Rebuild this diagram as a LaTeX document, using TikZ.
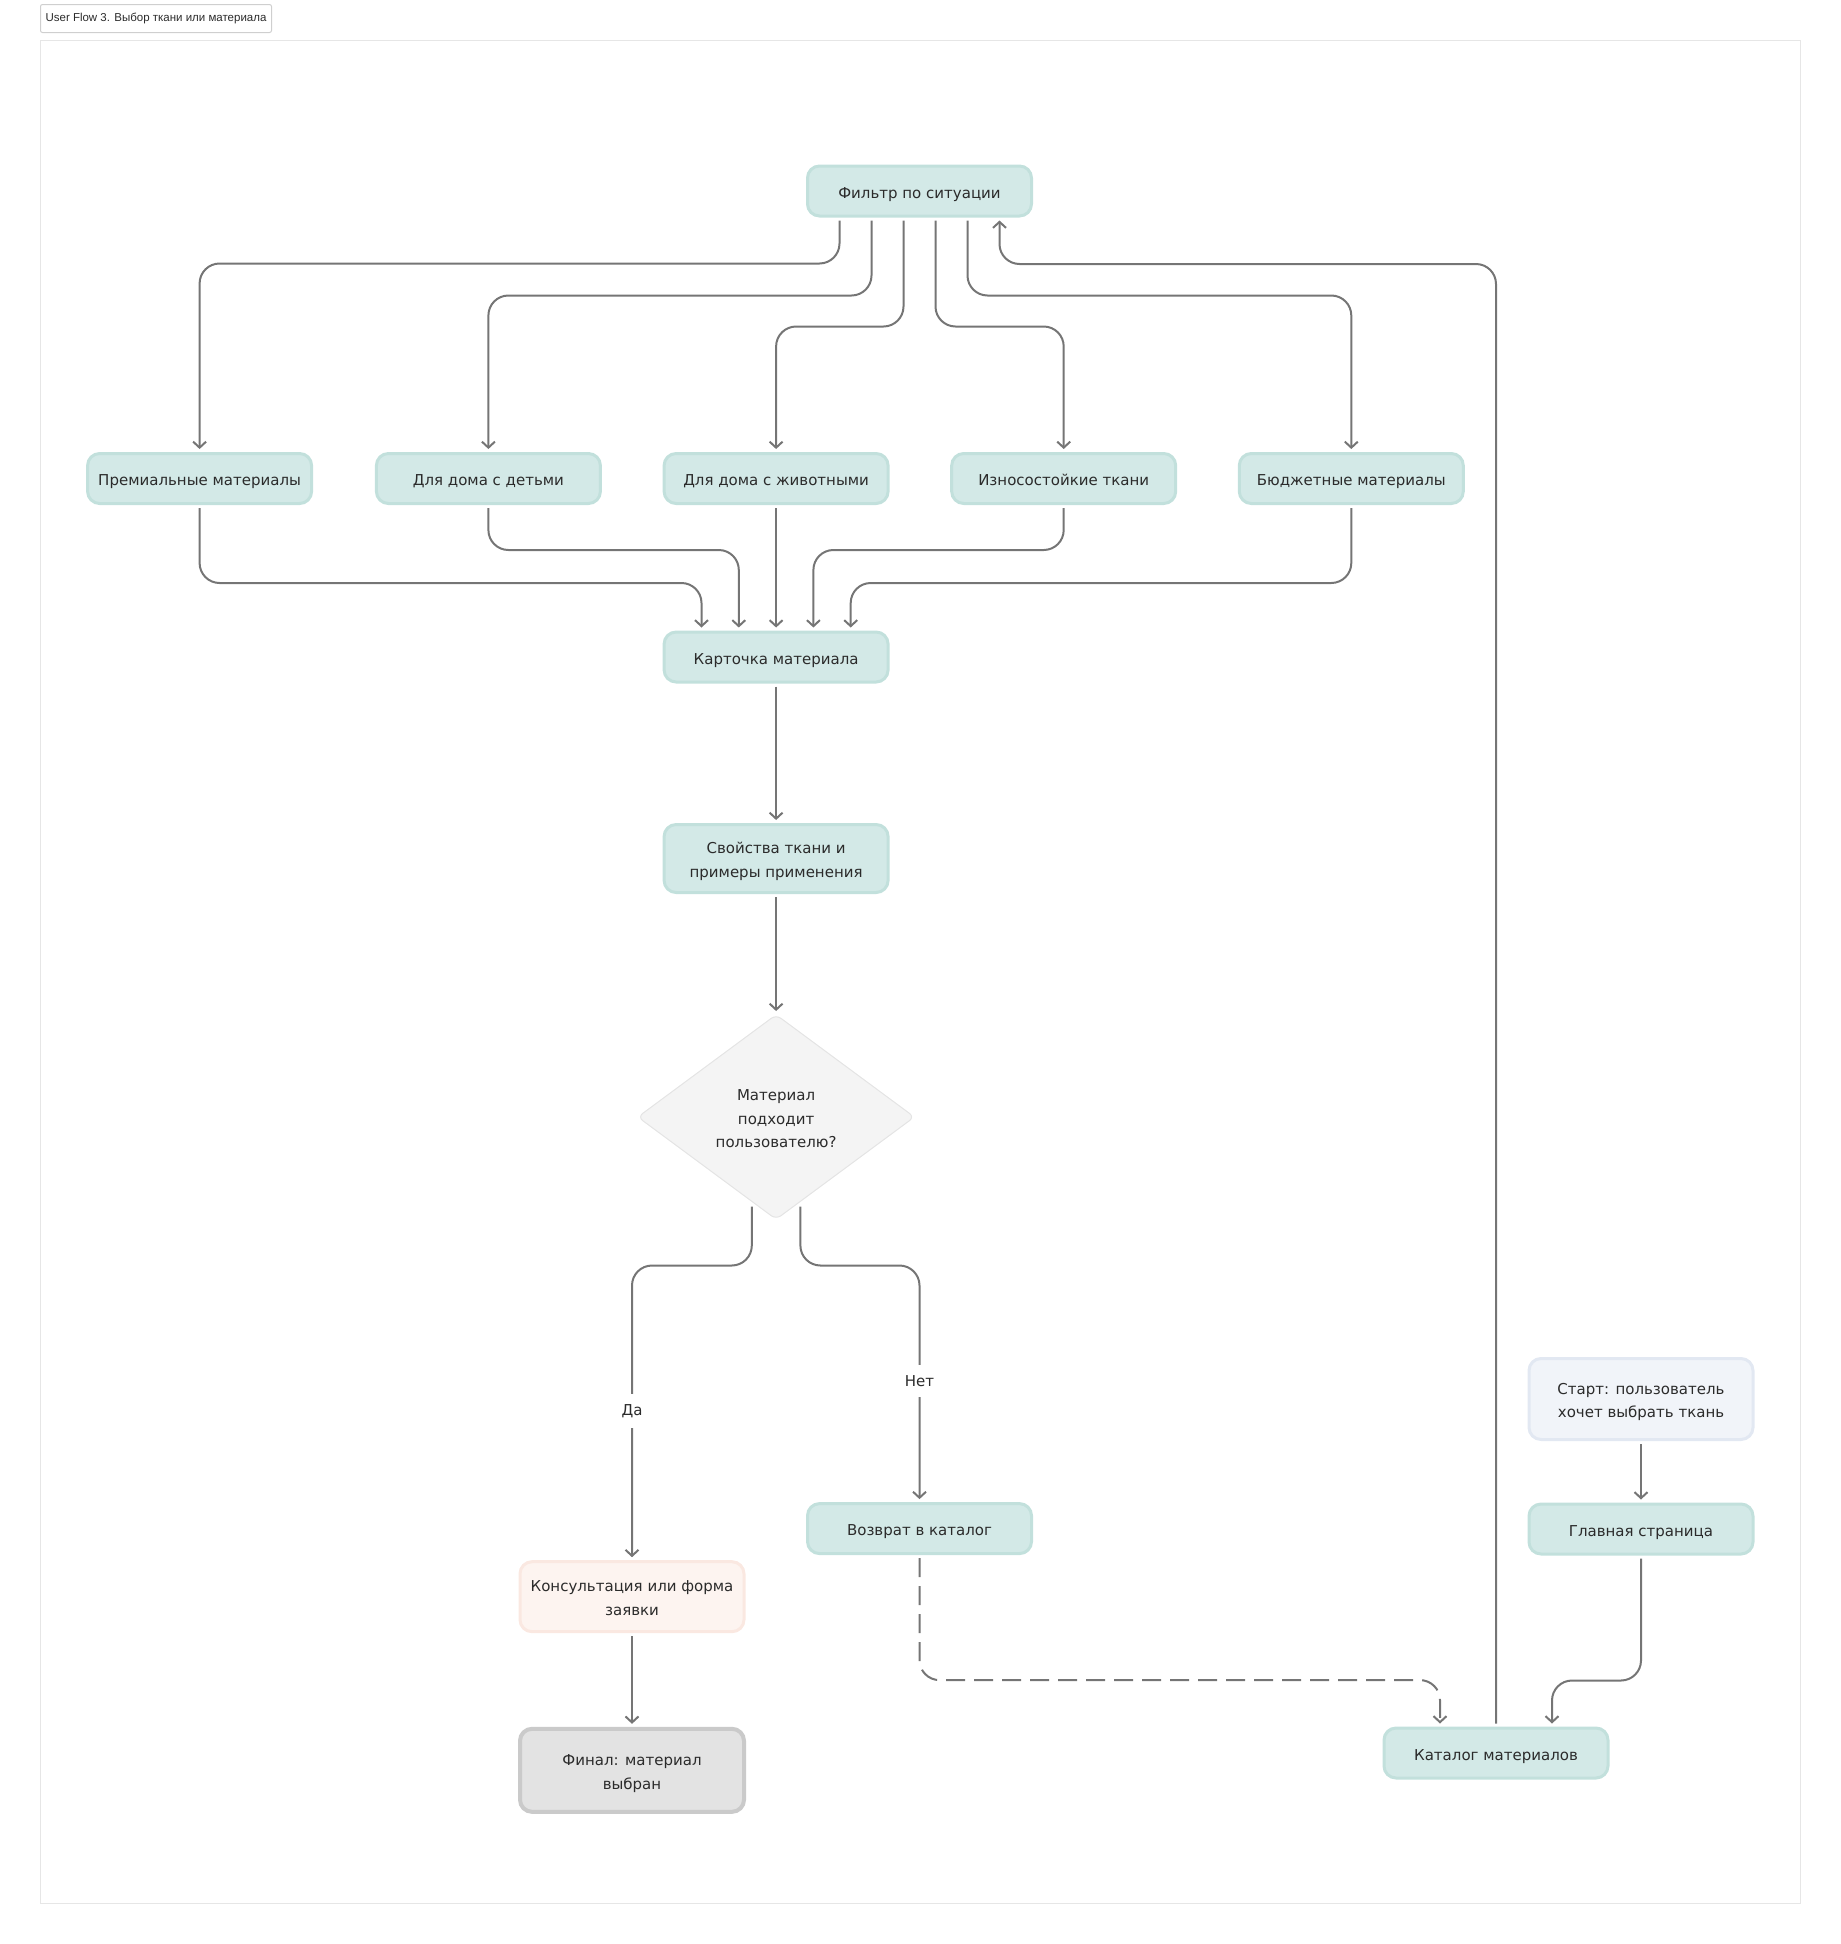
\documentclass[tikz,border=0pt]{standalone}
\usepackage{fontspec}
\setmainfont{DejaVu Sans}
\newfontfamily\titlefont{Liberation Sans}
\usetikzlibrary{arrows.meta,shapes.geometric,calc}
\definecolor{tealfill}{HTML}{D3E9E7}
\definecolor{tealline}{HTML}{C2E0DC}
\definecolor{consfill}{HTML}{FDF4F0}
\definecolor{consline}{HTML}{FAE8E1}
\definecolor{finfill}{HTML}{E3E3E3}
\definecolor{finline}{HTML}{CACACA}
\definecolor{startfill}{HTML}{F1F4F9}
\definecolor{startline}{HTML}{E2E8F2}
\definecolor{diafill}{HTML}{F4F4F4}
\definecolor{dialine}{HTML}{E4E4E4}
\definecolor{edgec}{HTML}{757575}
\definecolor{txt}{HTML}{2B2B2B}
\definecolor{framec}{HTML}{E6E6E6}
\definecolor{titleline}{HTML}{CFCFCF}
\newcommand\tstrut{\rule{0pt}{18pt}}
\newcommand\bstrut{\rule[-4pt]{0pt}{4pt}}
\begin{document}
\begin{tikzpicture}[x=1pt,y=-1pt,
  struts/.style={execute at begin node={\rule{0pt}{18pt}}, execute at end node={\rule[-4pt]{0pt}{4pt}}},
  multi/.style={execute at begin node={}, execute at end node={}},
  box/.style={draw=tealline, fill=tealfill, line width=3pt, rounded corners=12pt,
    minimum width=224pt, minimum height=50pt, inner sep=0pt, text=txt,
    font=\fontsize{15}{23.6}\selectfont, align=center, struts},
  consst/.style={draw=consline, fill=consfill},
  finst/.style={draw=finline, fill=finfill, line width=4pt},
  startst/.style={draw=startline, fill=startfill},
  dec/.style={diamond, draw=dialine, fill=diafill, line width=1pt, rounded corners=6pt,
    minimum width=277pt, minimum height=205pt, inner sep=0pt},
  plaintext/.style={inner sep=0pt, text=txt, font=\fontsize{15}{23.6}\selectfont, align=center},
  lbl/.style={fill=white, inner xsep=3pt, inner ysep=10pt, text=txt, font=\fontsize{15}{18}\selectfont},
  titlebox/.style={draw=titleline, line width=1pt, rounded corners=2pt, minimum width=231pt,
    minimum height=28pt, inner sep=0pt, text=txt, font=\titlefont\fontsize{11.5}{14}\selectfont},
  edge/.style={draw=edgec, line width=2pt, rounded corners=20pt,
    -{Straight Barb[length=6pt,width=13pt]}, shorten <=3pt, shorten >=3pt},
  dashedge/.style={dash pattern=on 19pt off 9pt},
]
\useasboundingbox (0,0) rectangle (1841,1944);
\draw[framec, line width=1pt] (40,40) rectangle (1800,1903);
\node[titlebox] (title) at (156,18.5) {User Flow 3. Выбор ткани или материала};

\coordinate (lvlA) at (0,264);

\node[box] (filt) at (919.5,191) {Фильтр по ситуации};
\node[box] (prem) at (199.6,478.5) {Премиальные материалы};
\node[box] (kids) at (488.4,478.5) {Для дома с детьми};
\node[box] (pets) at (776.1,478.5) {Для дома с животными};
\node[box] (wear) at (1063.7,478.5) {Износостойкие ткани};
\node[box] (budg) at (1351.3,478.5) {Бюджетные материалы};
\node[box] (card) at (776.1,657) {Карточка материала};
\node[box, multi, minimum height=68pt] (props) at (776.1,858.5) {\tstrut Свойства ткани и\\примеры применения\bstrut};
\node[dec] (dia) at (776.1,1117) {};
\node[plaintext, multi] (diat) at (776.1,1117) {\tstrut Материал\\подходит\\пользователю?\bstrut};
\node[box] (ret) at (919.5,1528.6) {Возврат в каталог};
\node[box, consst, multi, minimum height=70pt] (cons) at (632,1596.7) {\tstrut Консультация или форма\\заявки\bstrut};
\node[box, finst, multi, minimum height=83pt] (fin) at (632,1770.3) {\tstrut Финал: материал\\выбран\bstrut};
\node[box, startst, multi, minimum height=81pt] (start) at (1641,1399) {\tstrut Старт: пользователь\\хочет выбрать ткань\bstrut};
\node[box] (main) at (1641,1529) {Главная страница};
\node[box] (cat) at (1496,1753) {Каталог материалов};

% filter -> categories
\draw[edge] ([xshift=-80pt]filt.south) -- ++(0,46) -| (prem.north);
\draw[edge] ([xshift=-48pt]filt.south) -- ++(0,78) -| (kids.north);
\draw[edge] ([xshift=-16pt]filt.south) -- ++(0,109) -| (pets.north);
\draw[edge] ([xshift=16pt]filt.south) -- ++(0,109) -| (wear.north);
\draw[edge] ([xshift=48pt]filt.south) -- ++(0,78) -| (budg.north);
% catalog -> filter
\draw[edge] (cat.north) -- (cat.north |- lvlA) -| ([xshift=80pt]filt.south);

% categories -> card
\draw[edge] (prem.south) -- ++(0,78) -| ([xshift=-74.6pt]card.north);
\draw[edge] (kids.south) -- ++(0,45) -| ([xshift=-37.3pt]card.north);
\draw[edge] (pets.south) -- (card.north);
\draw[edge] (wear.south) -- ++(0,45) -| ([xshift=37.3pt]card.north);
\draw[edge] (budg.south) -- ++(0,78) -| ([xshift=74.6pt]card.north);

\draw[edge] (card.south) -- (props.north);
\draw[edge] (props.south) -- (dia.north);

\draw[edge, shorten <=0pt] ([xshift=-24.3pt,yshift=13.5pt]dia.south) -- ++(0,59) -| (cons.north);
\draw[edge, shorten <=0pt] ([xshift=24.3pt,yshift=13.5pt]dia.south) -- ++(0,59) -| (ret.north);
\node[lbl] (yes) at (632,1411) {Да};
\node[lbl] (no) at (919.5,1381) {Нет};

\draw[edge] (cons.south) -- (fin.north);
\draw[edge, dashedge] (ret.south) -- ++(0,125) -| ([xshift=-56pt]cat.north);
\draw[edge] (start.south) -- (main.north);
\draw[edge] (main.south) -- ++(0,125) -| ([xshift=56pt]cat.north);
\end{tikzpicture}
\end{document}
